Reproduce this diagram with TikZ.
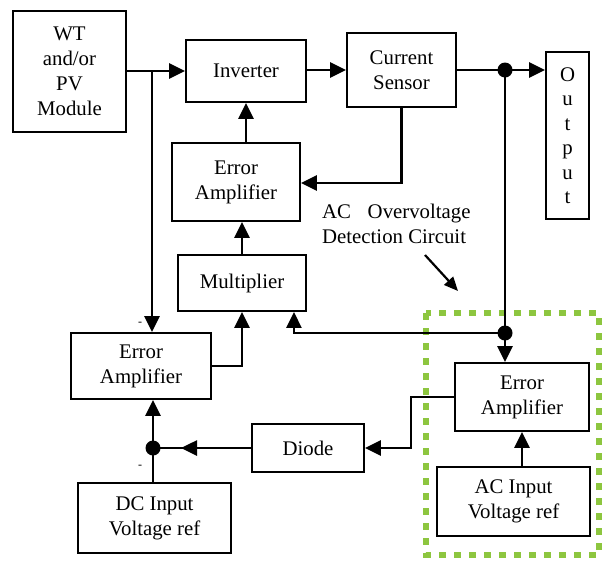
\documentclass[tikz,border=0pt]{standalone}
\usepackage{fontspec}
\setmainfont{Liberation Serif}
\usetikzlibrary{arrows.meta,calc}
\definecolor{dotgreen}{RGB}{141,198,63}
\begin{document}
\begin{tikzpicture}[x=1pt,y=-1pt,
  box/.style={draw,line width=1.9pt,inner sep=0pt,align=center,font=\fontsize{20.8}{25}\selectfont},
  ln/.style={line width=2.6pt},
  arr/.style={line width=2.6pt,-{Triangle[length=16pt,width=15pt]}},
  jdot/.style={circle,fill=black,inner sep=0pt,minimum size=15pt}]
\useasboundingbox (0,0) rectangle (604,563);
% boxes
\node[box,minimum width=113pt,minimum height=121pt] (wt) at (69.5,71.5) {WT\\and/or\\PV\\Module};
\node[box,minimum width=120pt,minimum height=62pt] (inv) at (246,71) {Inverter};
\node[box,minimum width=109pt,minimum height=74pt] (cs) at (401.5,70) {Current\\Sensor};
\node[box,minimum width=43pt,minimum height=167pt,font=\fontsize{20.8}{24.5}\selectfont] (out) at (567.5,135.5) {O\\u\\t\\p\\u\\t};
\node[box,minimum width=128pt,minimum height=78pt] (ea1) at (236,182) {Error\\Amplifier};
\node[box,minimum width=128pt,minimum height=56pt] (mul) at (242,283) {Multiplier};
\node[box,minimum width=140pt,minimum height=66pt] (ea2) at (141,366) {Error\\Amplifier};
\node[box,minimum width=134pt,minimum height=68pt] (ea3) at (522,397) {Error\\Amplifier};
\node[box,minimum width=112pt,minimum height=48pt] (diode) at (308,448) {Diode};
\node[box,minimum width=153pt,minimum height=70pt] (dc) at (154.5,518) {DC Input\\Voltage ref};
\node[box,minimum width=153pt,minimum height=69pt] (ac) at (513.5,501.5) {AC Input\\Voltage ref};
% green detection region
\draw[dotgreen,line width=6pt,dash pattern=on 7pt off 8pt] (426,313) rectangle (599,555);
% label
\node[anchor=north west,align=left,inner sep=0pt,font=\fontsize{20.8}{25}\selectfont] (lab) at (322,204) {AC\hspace{0.8em}Overvoltage\\Detection Circuit};
\coordinate (la1) at (425,255);
\coordinate (la2) at (458,291);
\draw[line width=2.2pt,-{Triangle[length=14pt,width=12pt]}] (la1) -- (la2);
% junctions
\coordinate (j1) at (152,71);
\coordinate (j2) at (505,70);
\coordinate (j3) at (505,333);
\coordinate (j4) at (153,448);
% connectors
\draw[arr] (wt.east |- inv.west) -- (inv.west);
\draw[arr] (j1) -- (j1 |- ea2.north);
\draw[arr] (inv.east |- cs.west) -- (cs.west);
\draw[arr] (cs.east) -- (out.west |- cs.east);
\draw[arr] (cs.south) |- ($(ea1.east)+(0,1)$);
\draw[arr] (inv.south |- ea1.north) -- (inv.south);
\draw[arr] (mul.north) -- (mul.north |- ea1.south);
\draw[arr] (ea2.east) -| (mul.south);
\draw[ln] (j2) -- (j3);
\draw[arr] (j3) -- (j3 |- ea3.north);
\draw[arr] (j3) -| ($(mul.south east)+(-13,0)$);
\draw[arr] (ea3.west) -| ($(diode.east)+(46,0)$) -- (diode.east);
\draw[ln] (diode.west) -- (j4);
\draw[arr] (diode.west) -- ($(j4)+(28,0)$);
\draw[arr] (j4) -- (j4 |- ea2.south);
\draw[ln] (j4) -- (j4 |- dc.north);
\draw[arr] (ea3.south |- ac.north) -- (ea3.south);
\node[jdot] at (j2) {};
\node[jdot] at (j3) {};
\node[jdot] at (j4) {};
% minus signs
\node[font=\fontsize{12}{12}\selectfont,inner sep=0pt] (m1) at (140,324) {-};
\node[font=\fontsize{12}{12}\selectfont,inner sep=0pt] (m2) at (140,467) {-};
\end{tikzpicture}
\end{document}
